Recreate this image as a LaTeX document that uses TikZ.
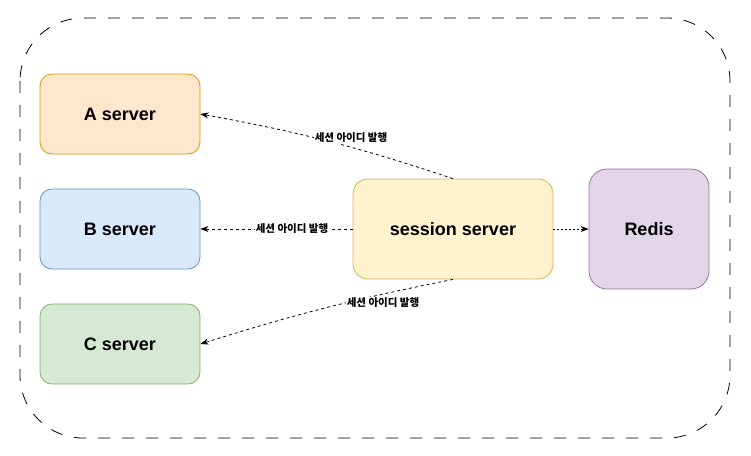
\documentclass[tikz,border=0pt]{standalone}
\usepackage{fontspec}
\setmainfont{Liberation Sans}
\newfontfamily\krfont{Noto Sans CJK KR}
\usetikzlibrary{arrows.meta}
\tikzset{
  srv/.style={draw, rounded corners=12pt, line width=0.8pt, minimum width=160pt, minimum height=80pt, inner sep=0pt, font=\fontsize{18}{21}\selectfont\bfseries},
  lbl/.style={fill=white, inner sep=1pt, font=\krfont\fontsize{10.5}{12}\selectfont\bfseries},
  conn/.style={line width=0.8pt, dash pattern=on 3pt off 3pt, -{Stealth[length=8pt,width=6pt,inset=2.5pt]}},
}
\definecolor{aF}{HTML}{FFE6CC}\definecolor{aD}{HTML}{D79B00}
\definecolor{bF}{HTML}{DAE8FC}\definecolor{bD}{HTML}{6C8EBF}
\definecolor{cF}{HTML}{D5E8D4}\definecolor{cD}{HTML}{82B366}
\definecolor{sF}{HTML}{FFF2CC}\definecolor{sD}{HTML}{D6B656}
\definecolor{rF}{HTML}{E1D5E7}\definecolor{rD}{HTML}{9673A6}
\begin{document}
\begin{tikzpicture}[x=1pt,y=-1pt]
\useasboundingbox (0,0) rectangle (751,455);
\draw[line width=0.8pt, dash pattern=on 12pt off 12pt, rounded corners=63pt] (20,18) rectangle (730,438);
\node[srv, fill=aF, draw=aD] (A) at (120,114) {A server};
\node[srv, fill=bF, draw=bD] (B) at (120,229) {B server};
\node[srv, fill=cF, draw=cD] (C) at (120,344) {C server};
\node[srv, fill=sF, draw=sD, minimum width=200pt, minimum height=100pt, rounded corners=15pt] (S) at (453,229) {session server};
\node[srv, fill=rF, draw=rD, minimum width=120pt, minimum height=120pt, rounded corners=18pt] (R) at (649,229) {Redis};
\draw[conn] (S.north) to[bend right=4] (A.east);
\draw[conn] (S.west) -- (B.east);
\draw[conn] (S.south) to[bend left=-3] (C.east);
\draw[line width=0.8pt, dash pattern=on 2pt off 2pt, -{Stealth[length=8pt,width=6pt,inset=2.5pt]}] (S.east) -- (R.west);
\node[lbl] (l1) at (351,138) {세션 아이디 발행};
\node[lbl] (l2) at (292,229) {세션 아이디 발행};
\node[lbl] (l3) at (383,303) {세션 아이디 발행};
\end{tikzpicture}
\end{document}
